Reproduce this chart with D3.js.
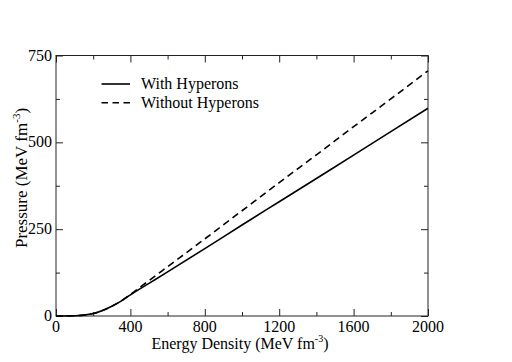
<!DOCTYPE html>
<html>
  <head>
    <title>Pressure vs Energy Density</title>
    <script src="https://d3js.org/d3.v7.min.js" charset="utf-8"></script>
    <style type="text/css">
      body { margin: 0; background: #fff; }
      text { font-family: "Liberation Serif", "DejaVu Serif", serif; fill: #000; }
    </style>
  </head>
  <body>
    <script type="text/javascript">

      // Data
      var energy = [0, 50, 100, 150, 200, 250, 300, 350, 400, 500, 600, 800, 1000, 1200, 1400, 1600, 1800, 2000];
      var withHyperons = [0, 0.2, 0.8, 2.5, 7, 16, 28, 43, 61, 94, 127, 194, 262, 329, 396, 463, 531, 598];
      var withoutHyperons = [0, 0.2, 0.8, 2.5, 7, 16, 28, 43, 62, 102, 142, 222, 303, 384, 464, 545, 625, 706];
      var xTicks = [0, 400, 800, 1200, 1600, 2000];
      var yTicks = [0, 250, 500, 750];
      var seriesNames = ["With Hyperons", "Without Hyperons"];

      var width = 512, height = 362;
      // plot box (note: "top" is reserved on window, so use pTop etc.)
      var pLeft = 56, pRight = 428, pTop = 55.5, pBottom = 316;

      var svg = d3.select("body").append("svg")
          .attr("width", width)
          .attr("height", height);

      var x = d3.scaleLinear().domain([0, 2000]).range([pLeft, pRight]);
      var y = d3.scaleLinear().domain([0, 750]).range([pBottom, pTop]);

      // Frame
      svg.append("rect")
          .attr("x", pLeft).attr("y", pTop)
          .attr("width", pRight - pLeft).attr("height", pBottom - pTop)
          .style("fill", "none").style("stroke", "#222").style("stroke-width", 1);

      // Axes with inward ticks on all four sides
      var xMinor = d3.range(200, 2000, 400);
      var yMinor = d3.range(125, 750, 250);

      function ticksX(g, vals, len, dir) {
        g.call(d3.axisBottom(x).tickValues(vals).tickSize(len).tickFormat(""))
          .call(function(s) { s.select(".domain").remove(); });
        g.selectAll("line").attr("y2", dir * len).style("stroke", "#222");
      }
      function ticksY(g, vals, len, dir) {
        g.call(d3.axisLeft(y).tickValues(vals).tickSize(len).tickFormat(""))
          .call(function(s) { s.select(".domain").remove(); });
        g.selectAll("line").attr("x2", dir * len).style("stroke", "#222");
      }

      ticksX(svg.append("g").attr("transform", "translate(0," + pBottom + ")"), xTicks, 7, -1);
      ticksX(svg.append("g").attr("transform", "translate(0," + pBottom + ")"), xMinor, 4, -1);
      ticksX(svg.append("g").attr("transform", "translate(0," + pTop + ")"), xTicks, 7, 1);
      ticksX(svg.append("g").attr("transform", "translate(0," + pTop + ")"), xMinor, 4, 1);
      ticksY(svg.append("g").attr("transform", "translate(" + pLeft + ",0)"), yTicks, 7, 1);
      ticksY(svg.append("g").attr("transform", "translate(" + pLeft + ",0)"), yMinor, 4, 1);
      ticksY(svg.append("g").attr("transform", "translate(" + pRight + ",0)"), yTicks, 7, -1);
      ticksY(svg.append("g").attr("transform", "translate(" + pRight + ",0)"), yMinor, 4, -1);

      // Tick labels
      svg.selectAll(".xlab").data(xTicks).enter().append("text")
          .attr("x", function(d) { return x(d); })
          .attr("y", 332)
          .attr("text-anchor", "middle")
          .style("font-size", "16px")
          .text(function(d) { return d; });

      svg.selectAll(".ylab").data(yTicks).enter().append("text")
          .attr("x", pLeft - 4)
          .attr("y", function(d) { return y(d) + 5; })
          .attr("text-anchor", "end")
          .style("font-size", "16px")
          .text(function(d) { return d; });

      // Axis titles
      var xt = svg.append("text")
          .attr("x", 240).attr("y", 349)
          .attr("text-anchor", "middle")
          .style("font-size", "16px");
      xt.append("tspan").text("Energy Density (MeV fm");
      xt.append("tspan").attr("dy", -7).style("font-size", "10px").text("-3");
      xt.append("tspan").attr("dy", 7).text(")");

      var yt = svg.append("text")
          .attr("transform", "translate(27,178) rotate(-90)")
          .attr("text-anchor", "middle")
          .style("font-size", "17px");
      yt.append("tspan").text("Pressure (MeV fm");
      yt.append("tspan").attr("dy", -7).style("font-size", "11px").text("-3");
      yt.append("tspan").attr("dy", 7).text(")");

      // Curves
      var line = d3.line()
          .x(function(d, i) { return x(energy[i]); })
          .y(function(d) { return y(d); })
          .curve(d3.curveMonotoneX);

      svg.append("path").datum(withoutHyperons)
          .attr("d", line)
          .style("fill", "none").style("stroke", "#000")
          .style("stroke-width", 1.6).style("stroke-dasharray", "7,4.5");

      svg.append("path").datum(withHyperons)
          .attr("d", line)
          .style("fill", "none").style("stroke", "#000")
          .style("stroke-width", 1.6);

      // Legend
      var legend = svg.selectAll(".legend").data(seriesNames).enter().append("g")
          .attr("transform", function(d, i) { return "translate(101.5," + (84 + i * 18.7) + ")"; });
      legend.append("line")
          .attr("x1", 0).attr("x2", 28.5).attr("y1", 0).attr("y2", 0)
          .style("stroke", "#000").style("stroke-width", 1.6)
          .style("stroke-dasharray", function(d, i) { return i ? "6.5,4.5" : null; });
      legend.append("text")
          .attr("x", 39.5).attr("y", 5)
          .style("font-size", "16px")
          .text(function(d) { return d; });

    </script>
  </body>
</html>
